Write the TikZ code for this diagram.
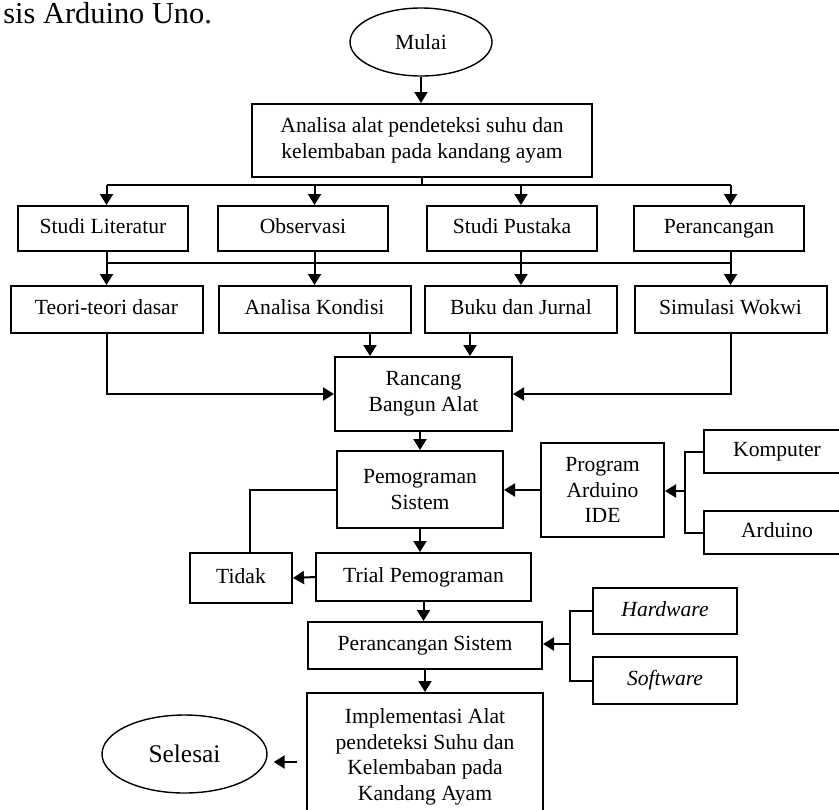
\documentclass[tikz,border=0pt]{standalone}
\usepackage{fontspec}
\setmainfont{Liberation Serif}
\usetikzlibrary{arrows.meta, positioning, shapes.geometric, calc}

\begin{document}
\begin{tikzpicture}[
    x=0.5pt, y=-0.5pt,
    box/.style={draw, line width=1pt, align=center, inner sep=1pt, font=\fontsize{10.8}{12.8}\selectfont},
    oneline/.style={box, text height=7.6pt, text depth=2.4pt},
    oval/.style={draw, ellipse, line width=0.7pt, inner sep=0pt, font=\fontsize{10.8}{12.8}\selectfont},
    rowa/.style={oneline, minimum width=85pt, minimum height=22.5pt},
    rowb/.style={oneline, minimum width=96pt, minimum height=23.5pt},
    side/.style={oneline, minimum width=73pt, minimum height=21.5pt},
    arrow/.style={-{Triangle[length=5.5pt,width=6.5pt]}, line width=1pt},
    line/.style={line width=1pt}
  ]
  \useasboundingbox (0,0) rectangle (839,809);
  \clip (0,0) rectangle (839,809);
  \node[anchor=base west, inner sep=0pt, font=\fontsize{15.2}{18}\selectfont] (cap) at (3,23) {sis Arduino Uno.};

  \node[oval, minimum width=71pt, minimum height=34pt] (mulai) at (421,42) {Mulai};
  \node[box, minimum width=170pt, minimum height=36.5pt] (anls) at (422,140.5) {Analisa alat pendeteksi suhu dan\\kelembaban pada kandang ayam};
  \node[rowa] (lit) at (103,228.5) {Studi Literatur};
  \node[rowa] (obs) at (303,228.5) {Observasi};
  \node[rowa] (pus) at (512,228.5) {Studi Pustaka};
  \node[rowa] (pers) at (719,228.5) {Perancangan};
  \node[rowb] (teori) at (106.5,309.5) {Teori-teori dasar};
  \node[rowb] (kond) at (314.5,309.5) {Analisa Kondisi};
  \node[rowb] (buku) at (521,309.5) {Buku dan Jurnal};
  \node[rowb] (wokwi) at (730.5,309.5) {Simulasi Wokwi};
  \node[box, minimum width=88.5pt, minimum height=37pt] (rancang) at (423.5,394) {Rancang\\Bangun Alat};
  \node[box, minimum width=83pt, minimum height=38.5pt] (pemo) at (420,489.5) {Pemograman\\Sistem};
  \node[box, minimum width=61.5pt, minimum height=47pt] (ide) at (602.5,490) {Program\\Arduino\\IDE};
  \node[side] (komp) at (777,451.5) {Komputer};
  \node[side] (ard) at (777,532.5) {Arduino};
  \node[oneline, minimum width=51pt, minimum height=25pt] (tidak) at (241,578) {Tidak};
  \node[oneline, minimum width=107.5pt, minimum height=24pt] (trial) at (423.5,577) {Trial Pemograman};
  \node[oneline, minimum width=117pt, minimum height=23.5pt] (sis) at (425,645.5) {Perancangan Sistem};
  \node[oneline, minimum width=72pt, minimum height=23pt] (hw) at (665,611) {\itshape Hardware};
  \node[oneline, minimum width=72pt, minimum height=23.5pt] (sw) at (665,680.5) {\itshape Software};
  \node[box, minimum width=118pt, minimum height=64pt] (impl) at (425,757) {Implementasi Alat\\pendeteksi Suhu dan\\Kelembaban pada\\Kandang Ayam};
  \node[oval, minimum width=82.5pt, minimum height=39pt, font=\fontsize{12.7}{15}\selectfont] (end) at (184.5,754) {Selesai};

  % top of the chart
  \draw[arrow] (mulai.south) -- (mulai.south |- anls.north);
  \coordinate (bus1) at (422,185);
  \coordinate (bus2) at (422,263);
  \draw[line] (anls.south) -- (bus1);
  \draw[line] (teori.north |- bus1) -- (wokwi.north |- bus1);
  \draw[line] (teori.north |- bus2) -- (wokwi.north |- bus2);
  \foreach \n/\m in {teori/lit, kond/obs, buku/pus, wokwi/pers} {
    \draw[arrow] (\n.north |- bus1) -- (\n.north |- \m.north);
    \draw[arrow] (\n.north |- \m.south) -- (\n.north);
  }

  % into Rancang Bangun Alat
  \coordinate (kin) at ([xshift=-26.75pt]rancang.north);
  \coordinate (bin) at ([xshift=23.25pt]rancang.north);
  \draw[arrow] (kin |- kond.south) -- (kin);
  \draw[arrow] (bin |- buku.south) -- (bin);
  \draw[arrow] (teori.south) |- (rancang.west);
  \draw[arrow] (wokwi.south) |- (rancang.east);
  \draw[arrow] (pemo.north |- rancang.south) -- (pemo.north);

  % program side
  \coordinate (kbr) at (685,491);
  \draw[line] (komp.west) -| (kbr) |- (ard.west);
  \draw[arrow] (kbr) -- (kbr -| ide.east);
  \draw[arrow] (ide.west) -- (ide.west -| pemo.east);
  \coordinate (tin) at ([xshift=4.5pt]tidak.north);
  \draw[line] (pemo.west) -| (tin);
  \draw[arrow] (pemo.south) -- (pemo.south |- trial.north);
  \draw[arrow] (trial.west) -- (tidak.east);
  \draw[arrow] (trial.south) -- (trial.south |- sis.north);

  % system design
  \coordinate (hbr) at (570,644);
  \draw[line] (hw.west) -| (hbr) |- (sw.west);
  \draw[arrow] (hbr) -- (hbr -| sis.east);
  \draw[arrow] (sis.south) -- (sis.south |- impl.north);
  \draw[arrow, shorten <=4.5pt, shorten >=3pt] ([yshift=-2.5pt]impl.west) -- ([yshift=-2.5pt]impl.west -| end.east);
\end{tikzpicture}
\end{document}
